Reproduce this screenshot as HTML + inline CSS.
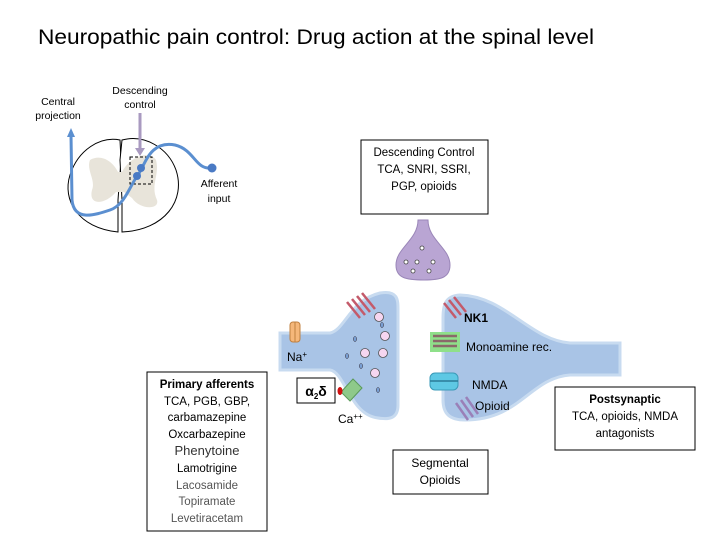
<!DOCTYPE html>
<html><head><meta charset="utf-8"><style>
body{margin:0;background:#fff;width:720px;height:540px;overflow:hidden;font-family:"Liberation Sans",sans-serif}
svg text{font-family:"Liberation Sans",sans-serif}
</style></head><body>
<svg width="720" height="540" viewBox="0 0 720 540" xmlns="http://www.w3.org/2000/svg">
<text x="38" y="44" font-size="21" fill="#000" textLength="556" lengthAdjust="spacingAndGlyphs">Neuropathic pain control: Drug action at the spinal level</text>
<!-- spinal cord -->
<path d="M120 140 C100 136 78 150 70 175 C62 200 78 228 118 232 L118 200 L121 160 Z" fill="#fff" stroke="#000" stroke-width="1"/>
<path d="M122 140 C145 134 168 148 176 170 C186 200 165 230 122 232 L122 200 L120 160 Z" fill="#fff" stroke="#000" stroke-width="1"/>
<path d="M90 160 C100 154 112 160 118 172 L122 172 C130 156 150 150 156 160 C160 175 150 185 157 200 C160 210 140 210 132 198 L124 192 L116 192 C105 205 88 206 92 190 C96 180 86 170 90 160Z" fill="#e8e4da"/>
<rect x="130" y="157" width="22" height="27" fill="none" stroke="#000" stroke-dasharray="3,2"/>
<line x1="140" y1="113" x2="140" y2="150" stroke="#a99ac0" stroke-width="3"/>
<polygon points="135,148 145,148 140,156" fill="#a99ac0"/>
<path d="M71 135 L72 200 C74 222 95 215 110 210 C125 205 130 185 138 175 C145 165 150 140 175 145 C195 150 195 170 212 168" fill="none" stroke="#5b8fd0" stroke-width="3"/>
<polygon points="67,137 75,137 71,128" fill="#5b8fd0"/>
<circle cx="137" cy="176" r="4" fill="#4a7ac4"/><circle cx="141" cy="168" r="4" fill="#4a7ac4"/><circle cx="212" cy="168" r="4.5" fill="#4a7ac4"/>
<text x="58" y="105" font-size="10.5" text-anchor="middle">Central</text>
<text x="58" y="119" font-size="10.5" text-anchor="middle">projection</text>
<text x="140" y="94" font-size="10.5" text-anchor="middle">Descending</text>
<text x="140" y="108" font-size="10.5" text-anchor="middle">control</text>
<text x="219" y="187" font-size="10.5" text-anchor="middle">Afferent</text>
<text x="219" y="202" font-size="10.5" text-anchor="middle">input</text>
<!-- descending box -->
<rect x="361" y="140" width="127" height="74" fill="#fff" stroke="#000"/>
<g font-size="11.5" text-anchor="middle"><text x="424" y="156">Descending Control</text><text x="424" y="173">TCA, SNRI, SSRI,</text><text x="424" y="190">PGP,  opioids</text></g>
<!-- purple bulb -->
<path d="M418 220 L428 220 C428 240 450 248 450 265 C450 278 440 280 424 280 C406 280 396 278 396 265 C396 248 418 240 418 220Z" fill="#b9a5d3" stroke="#9a86b8"/>
<g fill="#fff" stroke="#444" stroke-width="0.8"><circle cx="422" cy="248" r="2"/><circle cx="406" cy="262" r="2"/><circle cx="417" cy="262" r="2"/><circle cx="433" cy="262" r="2"/><circle cx="413" cy="271" r="2"/><circle cx="429" cy="271" r="2"/></g>
<!-- presynaptic -->
<path d="M280 333 L330 333 C345 330 350 300 380 293 C398 290 398 300 398 310 L398 405 C398 418 390 420 378 418 C350 415 345 372 330 370 L280 370 Z" fill="#a9c4e6" stroke="#c8dbf0" stroke-width="3"/>
<!-- postsynaptic -->
<path d="M620 343 L570 343 C530 340 505 296 460 295 C445 296 443 305 443 318 L443 400 C443 414 450 420 465 420 C520 420 530 378 570 375 L620 375 Z" fill="#a9c4e6" stroke="#c8dbf0" stroke-width="3"/>
<g fill="#f6d6f0" stroke="#555" stroke-width="0.8"><circle cx="379" cy="317" r="4.5"/><circle cx="385" cy="336" r="4.5"/><circle cx="365" cy="353" r="4.5"/><circle cx="383" cy="353" r="4.5"/><circle cx="375" cy="373" r="4.5"/></g>
<g fill="#7aa0d4" stroke="#334" stroke-width="0.6"><ellipse cx="382" cy="325" rx="1.5" ry="2.5"/><ellipse cx="355" cy="339" rx="1.5" ry="2.5"/><ellipse cx="347" cy="356" rx="1.5" ry="2.5"/><ellipse cx="361" cy="366" rx="1.5" ry="2.5"/><ellipse cx="378" cy="390" rx="1.5" ry="2.5"/></g>
<!-- receptors -->
<g stroke="#c45a6a" stroke-width="2.5"><line x1="347" y1="302" x2="360" y2="318"/><line x1="352" y1="299" x2="365" y2="315"/><line x1="357" y1="296" x2="370" y2="312"/><line x1="362" y1="293" x2="375" y2="309"/></g>
<g stroke="#c45a6a" stroke-width="2.5"><line x1="444" y1="303" x2="456" y2="318"/><line x1="449" y1="300" x2="461" y2="315"/><line x1="454" y1="297" x2="466" y2="312"/></g>
<rect x="430" y="332" width="30" height="20" fill="#8fe08a"/>
<g stroke="#8a6a6a" stroke-width="2.5"><line x1="433" y1="336" x2="457" y2="336"/><line x1="433" y1="341" x2="457" y2="341"/><line x1="433" y1="346" x2="457" y2="346"/></g>
<rect x="430" y="373" width="28" height="17" rx="5" fill="#5ec8e4" stroke="#3a9ab8"/><line x1="430" y1="381" x2="458" y2="381" stroke="#2a7a98" stroke-width="1.5"/>
<g stroke="#9a80b8" stroke-width="2.5"><line x1="456" y1="403" x2="468" y2="420"/><line x1="461" y1="400" x2="473" y2="417"/><line x1="466" y1="397" x2="478" y2="414"/></g>
<rect x="290" y="322" width="10" height="20" rx="3" fill="#f5b77a" stroke="#c08040"/><line x1="295" y1="322" x2="295" y2="342" stroke="#c08040"/>
<path d="M341 392 L353 379 L362 388 L350 401 Z" fill="#8ec98a" stroke="#5a9a5a"/>
<ellipse cx="340" cy="391" rx="2.5" ry="4" fill="#d01010"/>
<rect x="297" y="378" width="38" height="25" fill="#fff" stroke="#000"/>
<text x="316" y="396" font-size="14" font-weight="bold" text-anchor="middle">α<tspan font-size="8" dy="3">2</tspan><tspan dy="-3">δ</tspan></text>
<g font-size="12"><text x="287" y="361">Na<tspan font-size="8" dy="-4">+</tspan></text><text x="338" y="423">Ca<tspan font-size="8" dy="-4">++</tspan></text>
<text x="464" y="322" font-weight="bold">NK1</text><text x="466" y="351">Monoamine rec.</text><text x="472" y="389">NMDA</text><text x="475" y="410">Opioid</text></g>
<!-- postsynaptic box -->
<rect x="555" y="387" width="140" height="63" fill="#fff" stroke="#000"/>
<g font-size="11.5" text-anchor="middle"><text x="625" y="403" font-weight="bold">Postsynaptic</text><text x="625" y="420">TCA, opioids, NMDA</text><text x="625" y="437">antagonists</text></g>
<!-- segmental -->
<rect x="393" y="450" width="95" height="44" fill="#fff" stroke="#000"/>
<g font-size="12" text-anchor="middle"><text x="440" y="467">Segmental</text><text x="440" y="484">Opioids</text></g>
<!-- primary afferents -->
<rect x="147" y="372" width="120" height="159" fill="#fff" stroke="#000"/>
<g font-size="11.5" text-anchor="middle"><text x="207" y="388" font-weight="bold">Primary afferents</text><text x="207" y="405">TCA, PGB, GBP,</text><text x="207" y="421">carbamazepine</text><text x="207" y="438">Oxcarbazepine</text>
<text x="207" y="455" font-size="13" fill="#333">Phenytoine</text><text x="207" y="472">Lamotrigine</text>
<g fill="#555"><text x="207" y="489">Lacosamide</text><text x="207" y="505">Topiramate</text><text x="207" y="522">Levetiracetam</text></g></g>
</svg>
</body></html>
